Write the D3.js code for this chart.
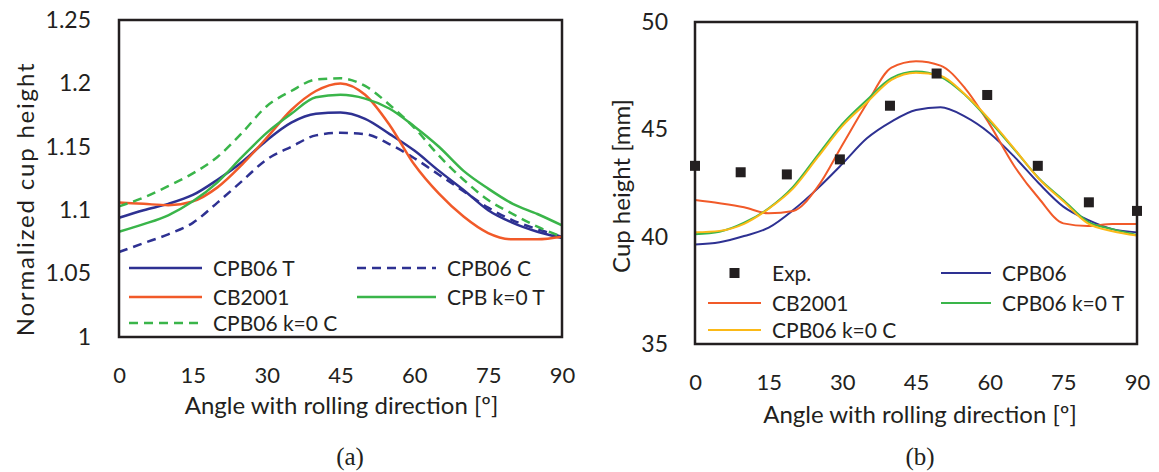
<!DOCTYPE html>
<html>
<head>
    <script src="https://cdnjs.cloudflare.com/ajax/libs/d3/7.8.5/d3.min.js"></script>
    <style>
        body { margin: 0; background: #fff; }
        text { font-family: Lato, "Open Sans", sans-serif; fill: #231f20; }
        .cap { font-family: "Liberation Serif", "DejaVu Serif", serif; font-size: 25px; }
        .frame { fill: none; stroke: #231f20; stroke-width: 2.5px; }
    </style>
</head>
<body>
    <div id="chart"></div>
    <script>
        const width = 1159, height = 472;

        // angles (deg) shared by all simulated curves
        const angles = [0, 5, 10, 15, 20, 25, 30, 35, 40, 45, 50, 55, 60, 65, 70, 75, 80, 85, 90];
        const xTicks = [0, 15, 30, 45, 60, 75, 90];

        // (a) normalized cup height
        const aCPB06T  = [1.094, 1.100, 1.105, 1.112, 1.124, 1.138, 1.155, 1.169, 1.176, 1.177, 1.172, 1.160, 1.147, 1.131, 1.116, 1.100, 1.090, 1.083, 1.078];
        const aCPB06C  = [1.067, 1.074, 1.081, 1.090, 1.106, 1.123, 1.140, 1.150, 1.159, 1.161, 1.160, 1.152, 1.141, 1.128, 1.115, 1.102, 1.092, 1.085, 1.079];
        const aCB2001  = [1.106, 1.105, 1.104, 1.107, 1.118, 1.136, 1.157, 1.179, 1.194, 1.200, 1.191, 1.167, 1.136, 1.113, 1.095, 1.082, 1.077, 1.077, 1.079];
        const aCPBk0T  = [1.083, 1.089, 1.096, 1.107, 1.122, 1.142, 1.161, 1.176, 1.189, 1.191, 1.188, 1.180, 1.166, 1.150, 1.131, 1.117, 1.105, 1.097, 1.088];
        const aCPB06k0C = [1.103, 1.110, 1.119, 1.129, 1.142, 1.161, 1.182, 1.194, 1.203, 1.204, 1.198, 1.183, 1.165, 1.143, 1.124, 1.108, 1.097, 1.087, 1.079];
        const aYTicks = [1, 1.05, 1.1, 1.15, 1.2, 1.25];

        // (b) cup height [mm]
        const expAngles = [0, 9.3, 18.7, 29.5, 39.7, 49.2, 59.5, 69.8, 80.2, 90];
        const expHeight = [43.3, 43.0, 42.9, 43.6, 46.1, 47.6, 46.6, 43.3, 41.6, 41.2];
        const bCPB06   = [39.64, 39.74, 40.03, 40.42, 41.24, 42.25, 43.39, 44.58, 45.36, 45.90, 46.03, 45.59, 44.82, 43.73, 42.49, 41.40, 40.78, 40.35, 40.20];
        const bCB2001  = [41.71, 41.56, 41.37, 41.09, 41.20, 42.33, 44.27, 46.20, 47.87, 48.17, 47.97, 46.91, 45.23, 43.29, 41.79, 40.62, 40.50, 40.59, 40.59];
        const bCPB06k0T = [40.11, 40.23, 40.65, 41.32, 42.33, 43.80, 45.25, 46.37, 47.39, 47.69, 47.45, 46.60, 45.39, 44.07, 42.72, 41.71, 40.70, 40.35, 40.08];
        const bCPB06k0C = [40.20, 40.27, 40.60, 41.30, 42.25, 43.70, 45.15, 46.25, 47.30, 47.64, 47.50, 46.62, 45.45, 44.10, 42.70, 41.65, 40.62, 40.25, 40.05];
        const bYTicks = [35, 40, 45, 50];

        const blue = "#2e3192", red = "#f15a29", green = "#3ab54a", yellow = "#fbb917";

        const svg = d3.select("#chart").append("svg")
            .attr("width", width).attr("height", height);
        svg.append("rect").attr("width", width).attr("height", height).attr("fill", "#fff");

        function panel(opt) {
            const x = d3.scaleLinear().domain([0, 90]).range([opt.left, opt.right]);
            const y = d3.scaleLinear().domain(opt.yDomain).range([opt.bottom, opt.top]);

            svg.append("g")
                .attr("transform", `translate(0,${opt.bottom})`)
                .call(d3.axisBottom(x).tickValues(xTicks).tickSize(0).tickPadding(opt.xPad))
                .call(g => g.select(".domain").remove())
                .selectAll("text").style("font-size", "22px").attr("fill", "#231f20");

            svg.append("g")
                .attr("transform", `translate(${opt.left},0)`)
                .call(d3.axisLeft(y).tickValues(opt.yTicks).tickSize(0).tickPadding(opt.yPad)
                    .tickFormat(d => String(+d.toFixed(2))))
                .call(g => g.select(".domain").remove())
                .selectAll("text").style("font-size", "23px").attr("fill", "#231f20");

            const line = d3.line().x((d, i) => x(angles[i])).y(d => y(d)).curve(d3.curveMonotoneX);
            opt.series.forEach(s => {
                svg.append("path").datum(s.values)
                    .attr("d", line)
                    .attr("fill", "none")
                    .attr("stroke", s.color)
                    .attr("stroke-width", opt.lw)
                    .attr("stroke-dasharray", s.dash || null);
            });

            svg.append("rect").attr("class", "frame")
                .attr("x", opt.left).attr("y", opt.top)
                .attr("width", opt.right - opt.left).attr("height", opt.bottom - opt.top);

            svg.append("text")
                .attr("x", (opt.left + opt.right) / 2 + opt.titleShift).attr("y", opt.titleY)
                .attr("text-anchor", "middle").style("font-size", "24px")
                .text("Angle with rolling direction [º]");

            svg.append("text")
                .attr("transform", `translate(${opt.yTitleX},${opt.yTitleY}) rotate(-90)`)
                .attr("text-anchor", "middle").style("font-size", opt.yTitleSize)
                .style("letter-spacing", opt.yTitleSpacing)
                .text(opt.yTitle);

            svg.append("text").attr("class", "cap")
                .attr("x", opt.capX).attr("y", 465).attr("text-anchor", "middle")
                .text(opt.cap);

            return { x, y };
        }

        function legendItem(lx, ly, len, s, lw) {
            if (s.marker) {
                svg.append("rect").attr("x", lx + len / 2 - 5).attr("y", ly - 5)
                    .attr("width", 10).attr("height", 10).attr("fill", "#231f20");
            } else {
                svg.append("line")
                    .attr("x1", lx).attr("x2", lx + len).attr("y1", ly).attr("y2", ly)
                    .attr("stroke", s.color).attr("stroke-width", lw)
                    .attr("stroke-dasharray", s.dash || null);
            }
            svg.append("text").attr("x", lx + len + 11).attr("y", ly)
                .attr("dy", "0.36em").style("font-size", "21px").text(s.name);
        }

        // ---- panel (a)
        const sa = [
            { name: "CPB06 T", values: aCPB06T, color: blue },
            { name: "CPB06 C", values: aCPB06C, color: blue, dash: "9,6" },
            { name: "CB2001", values: aCB2001, color: red },
            { name: "CPB k=0 T", values: aCPBk0T, color: green },
            { name: "CPB06 k=0 C", values: aCPB06k0C, color: green, dash: "9,6" }
        ];
        panel({
            left: 119, right: 562, top: 20, bottom: 337, yDomain: [1, 1.25], yTicks: aYTicks,
            xPad: 30, yPad: 28, lw: 2.5, series: sa, titleY: 414, titleShift: 1,
            yTitle: "Normalized cup height", yTitleX: 34, yTitleY: 199, yTitleSize: "24px", yTitleSpacing: "1.8px",
            cap: "(a)", capX: 350
        });
        legendItem(129, 268, 73, sa[0], 2.5);
        legendItem(357, 268, 79, sa[1], 2.5);
        legendItem(129, 297, 73, sa[2], 2.5);
        legendItem(357, 297, 79, sa[3], 2.5);
        legendItem(129, 323, 73, sa[4], 2.5);

        // ---- panel (b)
        const sb = [
            { name: "CPB06", values: bCPB06, color: blue },
            { name: "CB2001", values: bCB2001, color: red },
            { name: "CPB06 k=0 T", values: bCPB06k0T, color: green },
            { name: "CPB06 k=0 C", values: bCPB06k0C, color: yellow }
        ];
        const pb = panel({
            left: 695, right: 1137, top: 22, bottom: 344, yDomain: [35, 50], yTicks: bYTicks,
            xPad: 30, yPad: 27, lw: 2, series: sb, titleY: 423, titleShift: 4,
            yTitle: "Cup height [mm]", yTitleX: 630, yTitleY: 186, yTitleSize: "24px", yTitleSpacing: "0px",
            cap: "(b)", capX: 920
        });
        svg.append("g").selectAll("rect")
            .data(expHeight)
            .enter().append("rect")
            .attr("x", (d, i) => pb.x(expAngles[i]) - 5)
            .attr("y", d => pb.y(d) - 5)
            .attr("width", 10).attr("height", 10)
            .attr("fill", "#231f20");

        legendItem(708, 273, 53, { name: "Exp.", marker: true }, 2);
        legendItem(941, 273, 50, sb[0], 2);
        legendItem(708, 303, 53, sb[1], 2);
        legendItem(941, 303, 50, sb[2], 2);
        legendItem(708, 330, 53, sb[3], 2);
    </script>
</body>
</html>
